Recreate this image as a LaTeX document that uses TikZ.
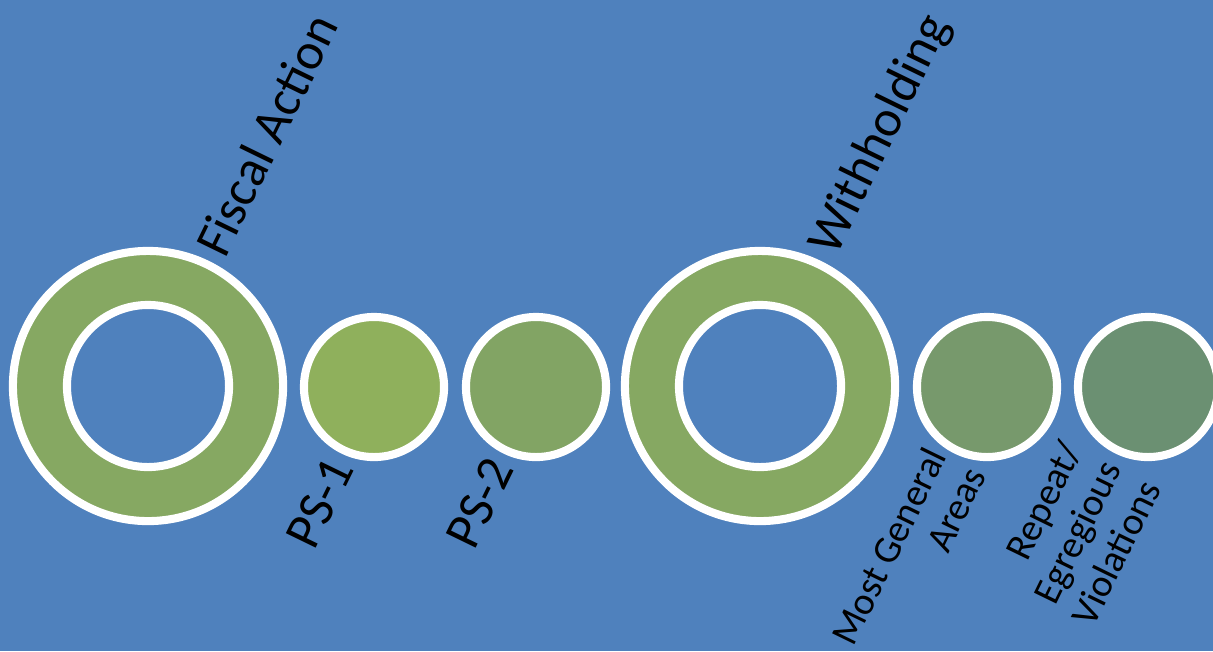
\documentclass[tikz,border=0pt]{standalone}
\usepackage{fontspec}
\setmainfont{Carlito}
\usepackage{tikz}
\usetikzlibrary{positioning, calc}
\definecolor{bgblue}{HTML}{4F81BD}
\definecolor{ringgreen}{HTML}{86A862}
\definecolor{psone}{HTML}{8FB05C}
\definecolor{pstwo}{HTML}{82A464}
\definecolor{mgagreen}{HTML}{77996C}
\definecolor{repgreen}{HTML}{6B9072}

\tikzset{
    ring/.style={circle, draw=white, line width=2.3pt, fill=ringgreen, minimum size=2.70cm, inner sep=0pt},
    hole/.style={circle, draw=white, line width=2.3pt, fill=bgblue, minimum size=1.62cm, inner sep=0pt},
    dot/.style={circle, draw=white, line width=2.3pt, minimum size=1.40cm, inner sep=0pt},
    biglabel/.style={font=\fontsize{14.7}{17}\selectfont, rotate=64, inner sep=0pt},
    smalllabel/.style={font=\fontsize{11}{12.5}\selectfont, rotate=64, inner sep=0pt, align=right}
}

\begin{document}
\begin{tikzpicture}[x=0.01cm, y=-0.01cm]
    \fill[bgblue] (0,0) rectangle (1213,651);
    \useasboundingbox (0,0) rectangle (1213,651);
    % fiscal action ring
    \node[ring] (fiscal) at (148,386) {};
    \node[hole] (fiscalhole) at (fiscal) {};
    \node[dot, fill=psone] (psone) at (374,387) {};
    \node[dot, fill=pstwo] (pstwo) at (536,387) {};
    % withholding ring
    \node[ring] (withhold) at (760,386) {};
    \node[hole] (withholdhole) at (withhold) {};
    \node[dot, fill=mgagreen] (general) at (987,387) {};
    \node[dot, fill=repgreen] (repeat) at (1148,387) {};
    % labels
    \node[biglabel, anchor=base west] (fiscaltxt) at (225,260) {Fiscal Action};
    \node[biglabel, anchor=base west] (withholdtxt) at (836,258) {Withholding};
    \node[biglabel, anchor=base west] (psonetxt) at (314,552) {PS-1};
    \node[biglabel, anchor=base west] (pstwotxt) at (474,552) {PS-2};
    \node[smalllabel, anchor=base east] (generaltxt) at (987,475) {Most General\\Areas};
    \node[smalllabel, anchor=base east] (repeattxt) at (1162,488) {Repeat/\\Egregious\\Violations};
\end{tikzpicture}
\end{document}
